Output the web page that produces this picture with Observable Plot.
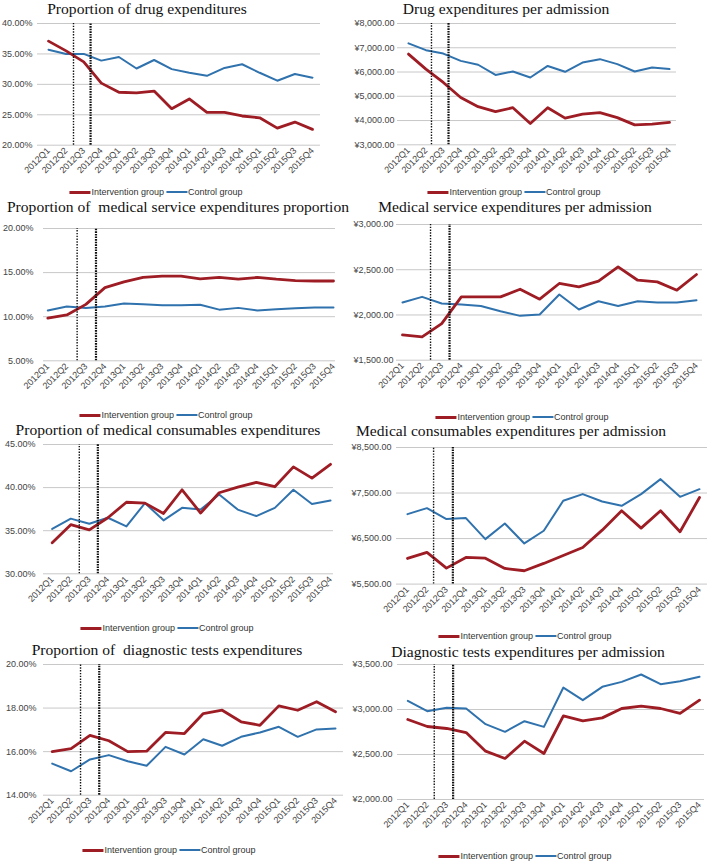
<!DOCTYPE html>
<html>
<head>
<meta charset="utf-8">
<script src="https://cdn.jsdelivr.net/npm/d3@7"></script>
<script src="https://cdn.jsdelivr.net/npm/@observablehq/plot@0.6"></script>
<style>
  body { margin: 0; background: #fff; }
  #root { position: relative; width: 709px; height: 862px; overflow: hidden; background: #fff; }
  #root svg { position: absolute; overflow: visible; background: transparent; }
  .title { position: absolute; font-family: "Liberation Serif", "Times New Roman", serif; font-size: 15.6px; line-height: 12px; color: #111; white-space: pre; width: max-content; transform: translateX(-50%); }
  .legend { position: absolute; font-family: "Liberation Sans", Arial, sans-serif; font-size: 9px; line-height: 10px; color: #333; white-space: nowrap; width: max-content; display: flex; align-items: center; transform: translate(-50%, -50%); }
  .legend span { flex-shrink: 0; }
  .sw { display: inline-block; width: 21px; margin-right: 1px; }
</style>
</head>
<body>
<div id="root"></div>
<script>
const quarters = ["2012Q1","2012Q2","2012Q3","2012Q4","2013Q1","2013Q2","2013Q3","2013Q4",
                  "2014Q1","2014Q2","2014Q3","2014Q4","2015Q1","2015Q2","2015Q3","2015Q4"];
const groups = ["Intervention group", "Control group"];
const colors = ["#9e1c24", "#2f72ad"];

// Proportion of drug expenditures (%)
const drugPropIntervention = [37.1,35.5,33.7,30.2,28.7,28.6,28.9,26.0,27.6,25.4,25.4,24.8,24.5,22.8,23.8,22.6];
const drugPropControl      = [35.7,35.0,35.0,33.9,34.5,32.6,34.0,32.5,31.9,31.4,32.7,33.3,31.9,30.6,31.7,31.1];
// Drug expenditures per admission (yuan)
const drugAdmIntervention  = [6740,6120,5570,4950,4570,4370,4530,3880,4530,4100,4260,4330,4120,3820,3850,3920];
const drugAdmControl       = [7180,6900,6760,6460,6300,5880,6020,5775,6250,6010,6390,6530,6325,6020,6190,6120];
// Proportion of medical service expenditures (%)
const servPropIntervention = [9.85,10.2,11.4,13.3,13.95,14.45,14.6,14.6,14.3,14.45,14.25,14.45,14.25,14.1,14.05,14.05];
const servPropControl      = [10.7,11.15,11.0,11.15,11.5,11.4,11.3,11.3,11.35,10.8,11.0,10.7,10.85,10.95,11.05,11.05];
// Medical service expenditures per admission (yuan)
const servAdmIntervention  = [1780,1758,1905,2200,2200,2200,2285,2175,2348,2311,2373,2532,2384,2366,2274,2447];
const servAdmControl       = [2137,2200,2126,2115,2100,2042,1990,2005,2226,2060,2152,2100,2152,2137,2137,2163];
// Proportion of medical consumables expenditures (%)
const consPropIntervention = [33.6,35.7,35.1,36.5,38.3,38.2,37.0,39.75,37.05,39.4,40.05,40.6,40.1,42.4,41.1,42.7];
const consPropControl      = [35.2,36.4,35.8,36.5,35.5,38.2,36.2,37.65,37.45,39.2,37.45,36.7,37.65,39.75,38.1,38.5];
// Medical consumables expenditures per admission (yuan)
const consAdmIntervention  = [6063,6195,5851,6085,6070,5844,5793,5954,6129,6305,6685,7110,6729,7110,6649,7402];
const consAdmControl       = [7037,7168,6927,6949,6488,6832,6393,6671,7329,7476,7315,7220,7476,7805,7417,7585];
// Proportion of diagnostic tests expenditures (%)
const diagPropIntervention = [16.0,16.14,16.75,16.5,16.0,16.02,16.88,16.83,17.75,17.9,17.37,17.21,18.1,17.9,18.29,17.83];
const diagPropControl      = [15.45,15.1,15.64,15.84,15.56,15.35,16.22,15.87,16.57,16.27,16.68,16.88,17.14,16.68,17.02,17.06];
// Diagnostic tests expenditures per admission (yuan)
const diagAdmIntervention  = [2889,2811,2789,2744,2537,2456,2648,2511,2930,2874,2907,3011,3037,3011,2956,3104];
const diagAdmControl       = [3096,2981,3019,3011,2837,2752,2870,2807,3244,3104,3252,3307,3389,3281,3315,3363];

// y-axis tick values per panel
const ticksDrugProp = [20,25,30,35,40];
const ticksDrugAdm  = [3000,4000,5000,6000,7000,8000];
const ticksServProp = [5,10,15,20];
const ticksServAdm  = [1500,2000,2500,3000];
const ticksConsProp = [30,35,40,45];
const ticksConsAdm  = [5500,6500,7500,8500];
const ticksDiagProp = [14,16,18,20];
const ticksDiagAdm  = [2000,2500,3000,3500];

// reform boundary markers (in quarter-index units)
const markersDrugProp = [1.42, 2.39];
const markersDrugAdm  = [1.32, 2.30];
const markersServProp = [1.54, 2.53];
const markersServAdm  = [1.43, 2.40];
const markersConsProp = [1.46, 2.46];
const markersConsAdm  = [1.34, 2.33];
const markersDiagProp = [1.50, 2.49];
const markersDiagAdm  = [1.36, 2.33];

const pct = d => d.toFixed(2) + "%";
const yen = d => "\u00a5" + d3.format(",.2f")(d);

const panels = [
  {title: "Proportion of drug expenditures", a: drugPropIntervention, b: drugPropControl, ticks: ticksDrugProp, markers: markersDrugProp, fmt: pct,
   L: 0, W: 354, xQ1: 48, xQ4: 312, gx0: 37, gx1: 320, yTop: 23.3, yBot: 145, pad: 5, tcx: 147, tby: 14, lcx: 156, ly: 192},
  {title: "Drug expenditures per admission", a: drugAdmIntervention, b: drugAdmControl, ticks: ticksDrugAdm, markers: markersDrugAdm, fmt: yen,
   L: 344, W: 365, xQ1: 408, xQ4: 669, gx0: 397, gx1: 676, yTop: 22.7, yBot: 144, pad: 3, tcx: 506, tby: 14, lcx: 514, ly: 192},
  {title: "Proportion of  medical service expenditures proportion", a: servPropIntervention, b: servPropControl, ticks: ticksServProp, markers: markersServProp, fmt: pct,
   L: 0, W: 354, xQ1: 47.3, xQ4: 333, gx0: 43, gx1: 335, yTop: 227.7, yBot: 360, pad: 10, tcx: 178, tby: 212, lcx: 166, ly: 415},
  {title: "Medical service expenditures per admission", a: servAdmIntervention, b: servAdmControl, ticks: ticksServAdm, markers: markersServAdm, fmt: yen,
   L: 344, W: 365, xQ1: 402, xQ4: 696, gx0: 396, gx1: 702, yTop: 224.3, yBot: 360, pad: 3, tcx: 515, tby: 212, lcx: 522, ly: 417},
  {title: "Proportion of medical consumables expenditures", a: consPropIntervention, b: consPropControl, ticks: ticksConsProp, markers: markersConsProp, fmt: pct,
   L: 0, W: 354, xQ1: 51.7, xQ4: 330, gx0: 43, gx1: 333, yTop: 444, yBot: 573.3, pad: 8, tcx: 168, tby: 435, lcx: 167, ly: 628},
  {title: "Medical consumables expenditures per admission", a: consAdmIntervention, b: consAdmControl, ticks: ticksConsAdm, markers: markersConsAdm, fmt: yen,
   L: 344, W: 365, xQ1: 407, xQ4: 699, gx0: 396, gx1: 707, yTop: 446.7, yBot: 583.3, pad: 5, tcx: 511, tby: 436, lcx: 525, ly: 636},
  {title: "Proportion of  diagnostic tests expenditures", a: diagPropIntervention, b: diagPropControl, ticks: ticksDiagProp, markers: markersDiagProp, fmt: pct,
   L: 0, W: 354, xQ1: 51.7, xQ4: 335, gx0: 43, gx1: 343, yTop: 664.3, yBot: 795, pad: 7, tcx: 167, tby: 655, lcx: 169, ly: 850},
  {title: "Diagnostic tests expenditures per admission", a: diagAdmIntervention, b: diagAdmControl, ticks: ticksDiagAdm, markers: markersDiagAdm, fmt: yen,
   L: 344, W: 365, xQ1: 407.3, xQ4: 699, gx0: 397, gx1: 704, yTop: 664.3, yBot: 799.3, pad: 5, tcx: 528, tby: 657, lcx: 525, ly: 856}
];

const root = document.getElementById("root");

for (const p of panels) {
  const T = p.yTop - 10;
  const H = (p.yBot - T) + 42;
  const idx = d3.range(quarters.length);
  const ya = idx.map(i => ({i, v: p.a[i]}));
  const yb = idx.map(i => ({i, v: p.b[i]}));
  const ymin = d3.min(p.ticks), ymax = d3.max(p.ticks);
  const svg = Plot.plot({
    width: p.W,
    height: H,
    marginLeft: p.gx0 - p.L,
    marginRight: p.L + p.W - p.gx1,
    marginTop: p.yTop - T,
    marginBottom: H - (p.yBot - T),
    style: {background: "transparent", overflow: "visible", fontFamily: "'Liberation Sans', Arial, sans-serif"},
    x: {type: "linear", domain: [0, quarters.length - 1], range: [p.xQ1 - p.L, p.xQ4 - p.L], label: null},
    y: {domain: [ymin, ymax], label: null},
    marks: [
      Plot.ruleY(p.ticks, {stroke: "#c8c8c8", strokeWidth: 1}),
      Plot.axisY({ticks: p.ticks, tickFormat: p.fmt, tickSize: 0, tickPadding: p.pad, fontSize: 9, fill: "#444", label: null}),
      Plot.axisX({ticks: idx, tickFormat: i => quarters[i], tickSize: 0, tickPadding: 4, tickRotate: -45, fontSize: 9, fill: "#444", label: null}),
      Plot.line(yb, {x: "i", y: "v", stroke: colors[1], strokeWidth: 2, strokeLinejoin: "round"}),
      Plot.line(ya, {x: "i", y: "v", stroke: colors[0], strokeWidth: 2.8, strokeLinejoin: "round"}),
      Plot.ruleX([p.markers[0]], {y1: ymin, y2: ymax, stroke: "#111", strokeWidth: 1.4, strokeDasharray: "1.4,1.4"}),
      Plot.ruleX([p.markers[1]], {y1: ymin, y2: ymax, stroke: "#111", strokeWidth: 2.2, strokeDasharray: "1.6,1"})
    ]
  });
  svg.style.left = p.L + "px";
  svg.style.top = T + "px";
  root.appendChild(svg);

  const t = document.createElement("div");
  t.className = "title";
  t.textContent = p.title;
  t.style.left = p.tcx + "px";
  t.style.top = (p.tby - 11.2) + "px";
  root.appendChild(t);

  const lg = document.createElement("div");
  lg.className = "legend";
  lg.style.left = p.lcx + "px";
  lg.style.top = p.ly + "px";
  groups.forEach((g, k) => {
    const sw = document.createElement("span");
    sw.className = "sw";
    sw.style.height = (k === 0 ? 3 : 2) + "px";
    sw.style.background = colors[k];
    lg.appendChild(sw);
    const tx = document.createElement("span");
    tx.textContent = g;
    tx.style.marginRight = k === 0 ? "2px" : "0";
    lg.appendChild(tx);
  });
  root.appendChild(lg);
}
</script>
</body>
</html>
